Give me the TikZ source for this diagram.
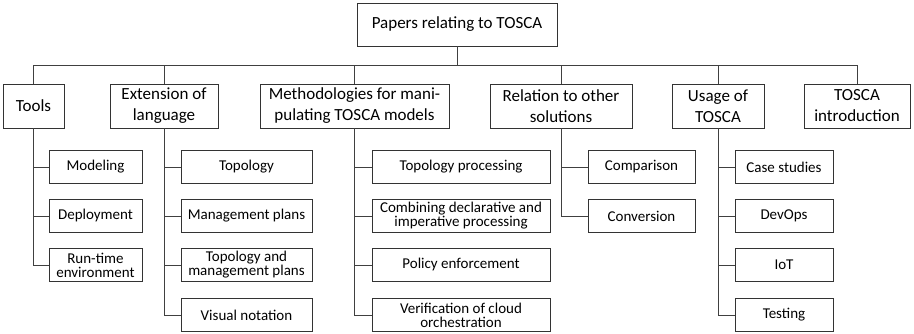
\documentclass[tikz,border=0pt]{standalone}
\usepackage{fontspec}
\setmainfont{Carlito}
\tikzset{
  top/.style={draw=black!80, line width=0.8pt, rectangle, inner sep=0pt, align=center, minimum height=44pt, font=\fontsize{17}{21}\selectfont},
  sub/.style={draw=black!80, line width=0.8pt, rectangle, inner sep=0pt, align=center, minimum height=33pt, font=\fontsize{15}{14}\selectfont},
  link/.style={draw=black!75, line width=0.8pt}
}
\begin{document}
\begin{tikzpicture}[x=1pt,y=-1pt]
\useasboundingbox (0,0) rectangle (914,334);
\coordinate (bus) at (0,65);
% root
\node[top, minimum width=200pt, minimum height=43pt] (root) at (457,24.5) {Papers relating to TOSCA};
% level 1
\node[top, minimum width=61pt] (tools) at (33.5,106) {Tools};
\node[top, minimum width=108pt] (ext) at (164,106) {Extension of\\language};
\node[top, minimum width=189pt] (meth) at (354.5,106) {Methodologies for mani-\\pulating TOSCA models};
\node[top, minimum width=142pt] (rel) at (561,106) {Relation to other\\solutions};
\node[top, minimum width=92pt] (usage) at (718,106) {Usage of\\TOSCA};
\node[top, minimum width=106pt] (intro) at (857,106) {TOSCA\\introduction};
% bus connectors
\foreach \n in {tools,ext,meth,rel,usage,intro}
  \draw[link] (root.south) -- (root.south |- bus) -| (\n.north);
% Tools children
\node[sub, minimum width=93pt] (t1) at (95.5,167) {Modeling};
\node[sub, minimum width=93pt] (t2) at (95.5,216) {Deployment};
\node[sub, minimum width=93pt] (t3) at (95.5,265) {Run-time\\environment};
% Extension children
\node[sub, minimum width=131pt] (e1) at (246.5,167) {Topology};
\node[sub, minimum width=131pt] (e2) at (246.5,216) {Management plans};
\node[sub, minimum width=131pt] (e3) at (246.5,265) {Topology and\\management plans};
\node[sub, minimum width=131pt] (e4) at (246.5,315) {Visual notation};
% Methodologies children
\node[sub, minimum width=178pt] (m1) at (461,167) {Topology processing};
\node[sub, minimum width=178pt] (m2) at (461,216) {Combining declarative and\\imperative processing};
\node[sub, minimum width=178pt] (m3) at (461,265) {Policy enforcement};
\node[sub, minimum width=178pt] (m4) at (461,315) {Verification of cloud\\orchestration};
% Relation children
\node[sub, minimum width=107pt] (r1) at (641.5,167) {Comparison};
\node[sub, minimum width=107pt] (r2) at (641.5,216) {Conversion};
% Usage children
\node[sub, minimum width=98pt] (u1) at (784,167) {Case studies};
\node[sub, minimum width=98pt] (u2) at (784,216) {DevOps};
\node[sub, minimum width=98pt] (u3) at (784,265) {IoT};
\node[sub, minimum width=98pt] (u4) at (784,315) {Testing};
% child connectors
\foreach \c in {t1,t2,t3} \draw[link] (tools.south) |- (\c.west);
\foreach \c in {e1,e2,e3,e4} \draw[link] (ext.south) |- (\c.west);
\foreach \c in {m1,m2,m3,m4} \draw[link] (meth.south) |- (\c.west);
\foreach \c in {r1,r2} \draw[link] (rel.south) |- (\c.west);
\foreach \c in {u1,u2,u3,u4} \draw[link] (usage.south) |- (\c.west);
\end{tikzpicture}
\end{document}
